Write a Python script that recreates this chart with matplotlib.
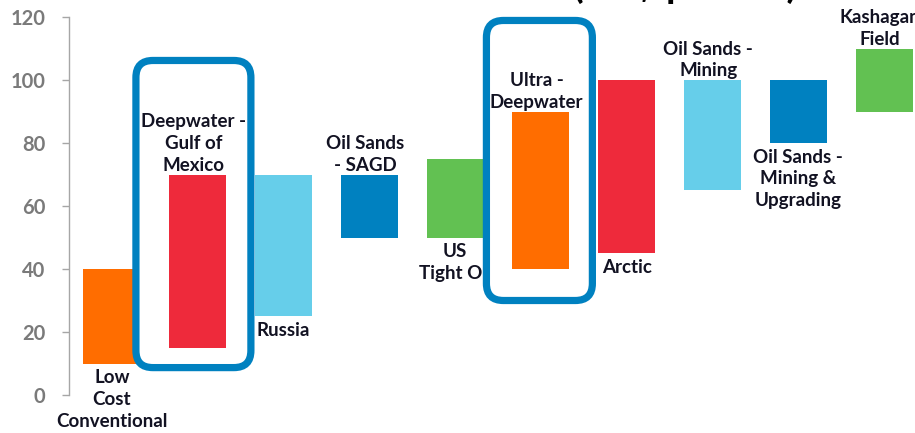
import matplotlib
matplotlib.use("Agg")
import matplotlib.pyplot as plt
from matplotlib.patches import FancyBboxPatch

# Breakeven price ranges by resource type (US$ per barrel)
categories = [
    "Low\nCost\nConventional",
    "Deepwater -\nGulf of\nMexico",
    "Russia",
    "Oil Sands\n- SAGD",
    "US\nTight Oil",
    "Ultra -\nDeepwater",
    "Arctic",
    "Oil Sands -\nMining",
    "Oil Sands -\nMining &\nUpgrading",
    "Kashagan\nField",
]
low_values = [10, 15, 25, 50, 50, 40, 45, 65, 80, 90]
high_values = [40, 70, 70, 70, 75, 90, 100, 100, 100, 110]
label_side = ["below", "above", "below", "above", "below",
              "above", "below", "above", "below", "above"]
highlighted = [1, 5]
y_ticks = [0, 20, 40, 60, 80, 100, 120]
title = "Breakeven Cost Curves (US$ per bbl)"

ORANGE = "#FF6D00"
RED = "#EE2A3B"
LIGHT_BLUE = "#66CEEA"
BLUE = "#0081C0"
GREEN = "#62C152"
bar_colors = [ORANGE, RED, LIGHT_BLUE, BLUE, GREEN,
              ORANGE, RED, LIGHT_BLUE, BLUE, GREEN]
TEXT = "#121222"
FONT = "Lato"

W, H = 915, 433
fig = plt.figure(figsize=(W / 100, H / 100), dpi=100)
ax = fig.add_axes([69 / W, 38 / H, 858 / W, 378 / H])
ax.set_xlim(-0.5, 9.5)
ax.set_ylim(0, 120)

x = list(range(len(categories)))
heights = [h - l for l, h in zip(low_values, high_values)]

for i in x:
    z = 4 if i in highlighted else 2
    ax.bar(i, heights[i], bottom=low_values[i], width=0.665,
           color=bar_colors[i], zorder=z, linewidth=0)
    if label_side[i] == "above":
        y, va, off = high_values[i], "bottom", (-3, 0.5)
    else:
        y, va, off = low_values[i], "top", (0, -4)
    ax.annotate(categories[i], (i, y), xytext=off,
                textcoords="offset points", ha="center", va=va,
                fontsize=13.5, fontweight="bold", family=FONT,
                color=TEXT, linespacing=1.34, zorder=z + 1,
                annotation_clip=False)

# Rounded call-out frames around the highlighted deepwater categories
frame_extents = {1: (-0.72, 0.62, 8.7, 106.2), 5: (-0.635, 0.60, 30.0, 118.9)}
px_x = 858 / 10.0
px_y = 378 / 120.0
for i in highlighted:
    dx0, dx1, y0, y1 = frame_extents[i]
    box = FancyBboxPatch((i + dx0, y0), dx1 - dx0, y1 - y0,
                         boxstyle="round,pad=0,rounding_size=%f" % (17 / px_x),
                         mutation_aspect=px_x / px_y,
                         facecolor="white", edgecolor=BLUE,
                         linewidth=5.2, zorder=3, clip_on=False)
    ax.add_patch(box)

ax.set_xticks([])
ax.set_yticks(y_ticks)
ax.tick_params(axis="y", length=5, width=1, color="#a6a6a6", pad=12,
               labelsize=14.5, labelcolor="#7a7a7a")
for lbl in ax.get_yticklabels():
    lbl.set_fontweight("bold")
    lbl.set_family(FONT)
for side in ("top", "right", "bottom"):
    ax.spines[side].set_visible(False)
ax.spines["left"].set_color("#a6a6a6")
ax.spines["left"].set_linewidth(1)

fig.text(797 / W, 1 + 2.5 / H, title, ha="right", va="baseline",
         fontsize=28, fontweight="bold", family=FONT, color="black")

fig.savefig("out.png", dpi=100)
